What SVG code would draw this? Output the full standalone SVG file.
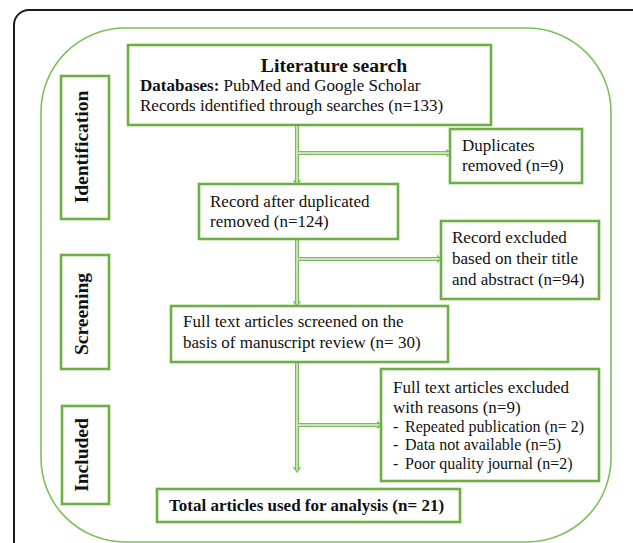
<svg xmlns="http://www.w3.org/2000/svg" width="633" height="543" viewBox="0 0 633 543">
<defs>
<style>
.frame{fill:none;stroke:#1a1a1a;stroke-width:2}
.outer{fill:none;stroke:#7cc05a;stroke-width:1.6}
.box{fill:#fff;stroke:#6cb043;stroke-width:2.6}
.t{font-family:"Liberation Serif","Times New Roman",serif;font-size:17px;fill:#111}
.b{font-weight:bold}
.side{font-family:"Liberation Serif","Times New Roman",serif;font-size:19.5px;font-weight:bold;fill:#111;text-anchor:middle}
.c1{fill:none;stroke:#78bb55;stroke-width:4}
.c2{fill:none;stroke:#e6f2de;stroke-width:1.4}
.ah{fill:none;stroke:#78bb55;stroke-width:1.3}
</style>
</defs>
<rect width="633" height="543" fill="#fff"/>
<rect class="frame" x="14" y="10" width="640" height="560" rx="15"/>
<rect class="outer" x="41" y="28" width="570" height="514" rx="84"/>

<g id="side-identification"><rect class="box" x="61" y="76" width="48" height="143"/><text class="side" x="88" y="147" transform="rotate(-90 88 147)">Identification</text></g>
<g id="side-screening"><rect class="box" x="61" y="255" width="48" height="114"/><text class="side" x="88" y="314" transform="rotate(-90 88 314)">Screening</text></g>
<g id="side-included"><rect class="box" x="62" y="406" width="47" height="98"/><text class="side" x="88" y="455" transform="rotate(-90 88 455)">Included</text></g>

<g id="connectors">
<path class="c1" d="M297 125V183M298 153H448M297 239V304M298 259H439M297 362V470M298 425H379"/>
<path class="c2" d="M297 125V183M298 153H448M297 239V304M298 259H439M297 362V470M298 425H379"/>
<path class="ah" d="M293.5 180L297 185L300.5 180M446 149.5L451 153L446 156.5M293.5 301L297 306L300.5 301M437 255.5L441 259L437 262.5M293.5 467L297 472L300.5 467M377 421.5L381 425L377 428.5"/>
</g>

<g id="literature-search"><rect class="box" x="128" y="45" width="363" height="80"/>
<text class="t b" x="334" y="72" text-anchor="middle" style="font-size:19.7px">Literature search</text>
<text class="t" x="140" y="91"><tspan class="b">Databases:</tspan> PubMed and Google Scholar</text>
<text class="t" x="140" y="111">Records identified through searches (n=133)</text></g>

<g id="duplicates-removed"><rect class="box" x="450" y="129" width="132" height="54"/>
<text class="t" x="462" y="151">Duplicates</text><text class="t" x="462" y="171">removed (n=9)</text></g>

<g id="record-after"><rect class="box" x="199" y="184" width="199" height="55"/>
<text class="t" x="210" y="207">Record after duplicated</text><text class="t" x="210" y="227">removed (n=124)</text></g>

<g id="record-excluded"><rect class="box" x="441" y="221" width="158" height="78"/>
<text class="t" x="452" y="243">Record excluded</text><text class="t" x="452" y="264">based on their title</text><text class="t" x="452" y="285">and abstract (n=94)</text></g>

<g id="full-text-screened"><rect class="box" x="171" y="306" width="277" height="56"/>
<text class="t" x="183" y="327">Full text articles screened on the</text><text class="t" x="183" y="348">basis of manuscript review (n= 30)</text></g>

<g id="full-text-excluded"><rect class="box" x="381" y="369" width="218" height="112"/>
<text class="t" x="393" y="393">Full text articles excluded</text><text class="t" x="393" y="413">with reasons (n=9)</text>
<text class="t" style="font-size:16px" x="393" y="432">-</text><text class="t" style="font-size:16px" x="405" y="432">Repeated publication (n= 2)</text>
<text class="t" style="font-size:16px" x="393" y="450">-</text><text class="t" style="font-size:16px" x="405" y="450">Data not available (n=5)</text>
<text class="t" style="font-size:16px" x="393" y="469">-</text><text class="t" style="font-size:16px" x="405" y="469">Poor quality journal (n=2)</text></g>

<g id="total-articles"><rect class="box" x="157" y="489" width="303" height="33"/>
<text class="t b" x="169" y="511">Total articles used for analysis (n= 21)</text></g>
</svg>
